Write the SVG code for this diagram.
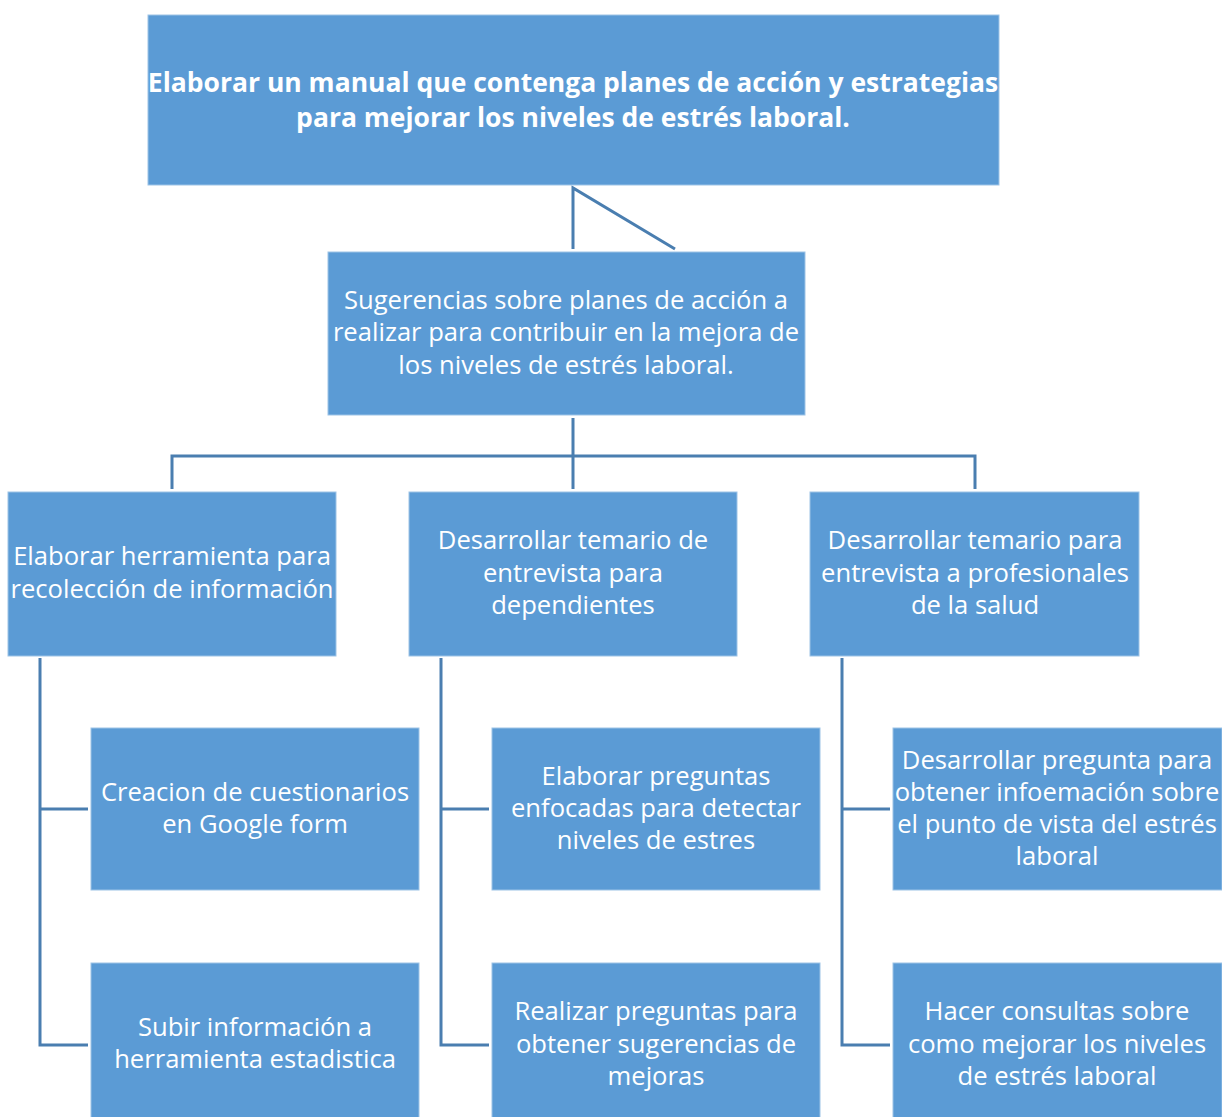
<svg xmlns="http://www.w3.org/2000/svg" width="1222" height="1117" viewBox="0 0 1222 1117">
<style>
.box{fill:#5B9BD5;stroke:#9DC3E6;stroke-width:1}
.t{font-family:"Open Sans","Liberation Sans",Arial,sans-serif;font-size:25.6px;fill:#fff;text-anchor:middle}
.tb{font-family:"Open Sans","Liberation Sans",Arial,sans-serif;font-size:26.5px;font-weight:bold;fill:#fff;text-anchor:middle}
.c{fill:none;stroke:#4A7EB0;stroke-width:3}
</style>
<rect width="1222" height="1117" fill="#fff"/>
<g id="connectors">
<path class="c" d="M573,249 V188 L675,249"/>
<path class="c" d="M573,418 V489 M172,489 V456 H975 V489"/>
<path class="c" d="M40,658 V1045 H88 M40,809 H88"/>
<path class="c" d="M441,658 V1045 H489 M441,809 H489"/>
<path class="c" d="M842,658 V1045 H890 M842,809 H890"/>
</g>
<g id="n0"><rect class="box" x="148" y="15" width="851" height="170"/>
<text class="tb" x="573" y="92">Elaborar un manual que contenga planes de acción y estrategias</text>
<text class="tb" x="573" y="127">para mejorar los niveles de estrés laboral.</text></g>
<g id="n1"><rect class="box" x="328" y="252" width="477" height="163"/>
<text class="t" x="566" y="309">Sugerencias sobre planes de acción a</text>
<text class="t" x="566" y="341">realizar para contribuir en la mejora de</text>
<text class="t" x="566" y="374">los niveles de estrés laboral.</text></g>
<g id="n2"><rect class="box" x="8" y="492" width="328" height="164"/>
<text class="t" x="172" y="565">Elaborar herramienta para</text>
<text class="t" x="172" y="598">recolección de información</text></g>
<g id="n3"><rect class="box" x="409" y="492" width="328" height="164"/>
<text class="t" x="573" y="549">Desarrollar temario de</text>
<text class="t" x="573" y="582">entrevista para</text>
<text class="t" x="573" y="614">dependientes</text></g>
<g id="n4"><rect class="box" x="810" y="492" width="329" height="164"/>
<text class="t" x="975" y="549">Desarrollar temario para</text>
<text class="t" x="975" y="582">entrevista a profesionales</text>
<text class="t" x="975" y="614">de la salud</text></g>
<g id="n5"><rect class="box" x="91" y="728" width="328" height="162"/>
<text class="t" x="255" y="801">Creacion de cuestionarios</text>
<text class="t" x="255" y="833">en Google form</text></g>
<g id="n6"><rect class="box" x="91" y="963" width="328" height="160"/>
<text class="t" x="255" y="1036">Subir información a</text>
<text class="t" x="255" y="1068">herramienta estadistica</text></g>
<g id="n7"><rect class="box" x="492" y="728" width="328" height="162"/>
<text class="t" x="656" y="785">Elaborar preguntas</text>
<text class="t" x="656" y="817">enfocadas para detectar</text>
<text class="t" x="656" y="849">niveles de estres</text></g>
<g id="n8"><rect class="box" x="492" y="963" width="328" height="160"/>
<text class="t" x="656" y="1020">Realizar preguntas para</text>
<text class="t" x="656" y="1053">obtener sugerencias de</text>
<text class="t" x="656" y="1085">mejoras</text></g>
<g id="n9"><rect class="box" x="893" y="728" width="329" height="162"/>
<text class="t" x="1057" y="769">Desarrollar pregunta para</text>
<text class="t" x="1057" y="801">obtener infoemación sobre</text>
<text class="t" x="1057" y="833">el punto de vista del estrés</text>
<text class="t" x="1057" y="865">laboral</text></g>
<g id="n10"><rect class="box" x="893" y="963" width="329" height="160"/>
<text class="t" x="1057" y="1020">Hacer consultas sobre</text>
<text class="t" x="1057" y="1053">como mejorar los niveles</text>
<text class="t" x="1057" y="1085">de estrés laboral</text></g>
</svg>
